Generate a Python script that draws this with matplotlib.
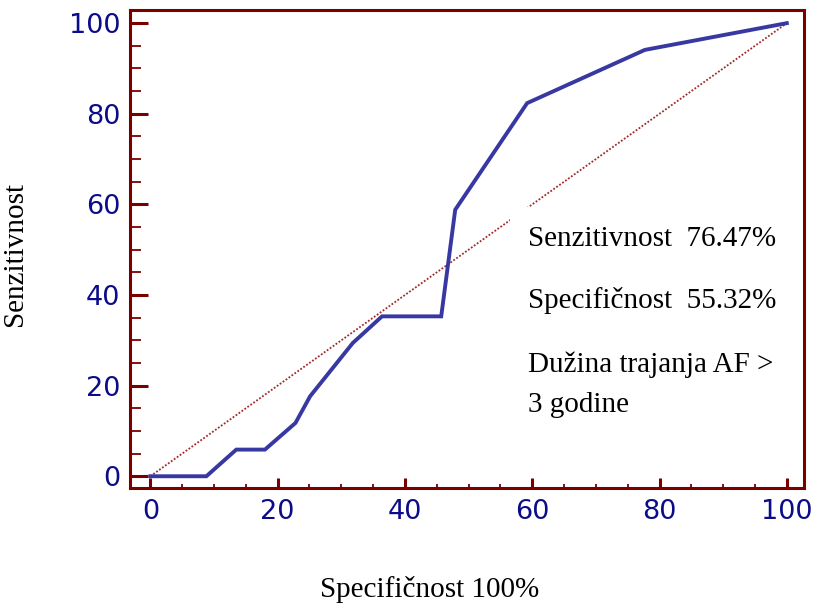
import matplotlib.pyplot as plt
from matplotlib.patches import Rectangle
from matplotlib.ticker import MultipleLocator

# ROC tačke (1 - specifičnost, senzitivnost), očitano sa slike
spec_x = [0, 8.8, 13.5, 18.0, 22.8, 25.1, 31.8, 36.4, 45.7, 47.9, 59.2, 77.7, 100]
senz_y = [0, 0, 5.88, 5.88, 11.76, 17.65, 29.4, 35.29, 35.29, 58.82, 82.35, 94.1, 100]
diag = [0, 100]

ticks = [0, 20, 40, 60, 80, 100]
tekst = ["Senzitivnost  76.47%", "Specifičnost  55.32%", "Dužina trajanja AF >", "3 godine"]
tekst_y = [52.4, 38.7, 24.6, 15.7]

maroon = "#7a0000"
navy = "#0c0c8a"
serif = ["Liberation Serif", "DejaVu Serif"]

fig = plt.figure(figsize=(8.28, 6.07), dpi=100)
ax = fig.add_axes([0.157, 0.196, 0.814, 0.7875])

ax.plot(diag, diag, color="#a02828", lw=1.3, linestyle=(0, (1, 1)), zorder=2)
ax.add_patch(Rectangle((0.564, 0.06), 0.42, 0.528, transform=ax.transAxes,
                       facecolor="white", edgecolor="none", zorder=3))
ax.plot(spec_x, senz_y, color="#3838a2", lw=2.8, zorder=4, solid_joinstyle="miter")

for t, yy in zip(tekst, tekst_y):
    ax.text(59.3, yy, t, fontsize=21, family=serif, va="center", ha="left", zorder=5)

ax.set_xlim(-3.2, 102.7)
ax.set_ylim(-2.6, 102.9)
ax.set_xticks(ticks)
ax.set_yticks(ticks)
ax.xaxis.set_minor_locator(MultipleLocator(5))
ax.yaxis.set_minor_locator(MultipleLocator(5))

for s in ax.spines.values():
    s.set_color(maroon)
    s.set_linewidth(2.2)

ax.tick_params(axis="both", which="both", direction="in", color=maroon,
               labelcolor=navy, labelsize=19.5, top=False, right=False)
ax.tick_params(axis="y", which="major", length=13, width=2.2, pad=7)
ax.tick_params(axis="y", which="minor", length=8, width=1.3)
ax.tick_params(axis="x", which="major", length=7, width=2.2, pad=8)
ax.tick_params(axis="x", which="minor", length=3, width=1.3)
for lab in ax.get_xticklabels() + ax.get_yticklabels():
    lab.set_family("DejaVu Sans")

ax.set_xlabel("Specifičnost 100%", fontsize=21, family=serif)
ax.set_ylabel("Senzitivnost", fontsize=21, family=serif)
ax.xaxis.set_label_coords(0.445, -0.184)
ax.yaxis.set_label_coords(-0.152, 0.49)

fig.savefig("out.png", dpi=100)
